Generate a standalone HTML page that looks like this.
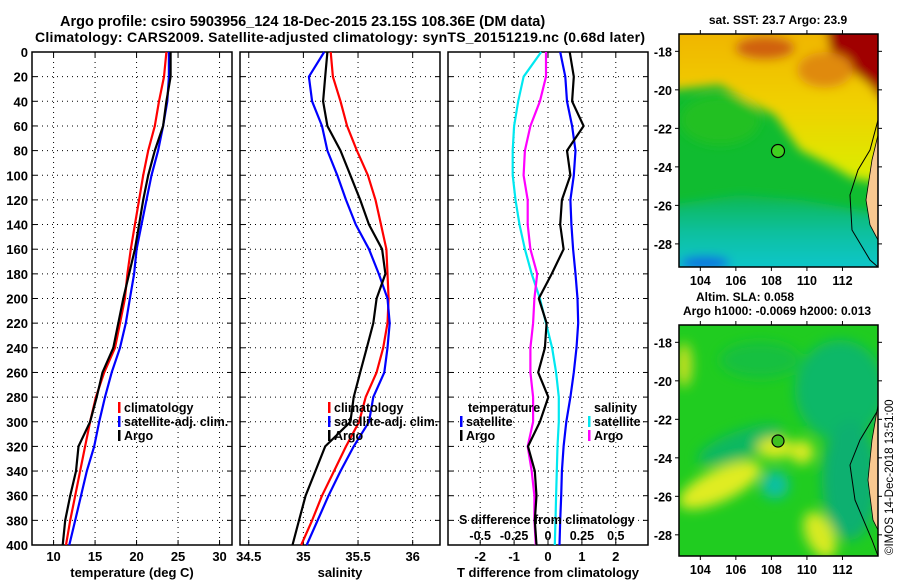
<!DOCTYPE html>
<html><head><meta charset="utf-8"><style>
body{margin:0;background:#fff;}
svg text{font-family:"Liberation Sans",sans-serif;font-weight:bold;fill:#000;}
</style></head><body>
<svg id="chart" width="900" height="580" viewBox="0 0 900 580" xmlns="http://www.w3.org/2000/svg">
<defs>
<filter id="blur" x="-20%" y="-20%" width="140%" height="140%"><feGaussianBlur stdDeviation="5"/></filter>
<filter id="blur2" x="-30%" y="-30%" width="160%" height="160%"><feGaussianBlur stdDeviation="6"/></filter>
<clipPath id="clipM1"><rect x="679" y="34" width="199" height="233"/></clipPath>
<clipPath id="clipM2"><rect x="679" y="325" width="199" height="231"/></clipPath>
<linearGradient id="sstTop" x1="0" y1="0" x2="0" y2="1"><stop offset="0" stop-color="#f0b000"/><stop offset="0.5" stop-color="#f0d000"/><stop offset="1" stop-color="#d8f000"/></linearGradient>
<linearGradient id="sstBot" x1="0" y1="0" x2="0" y2="1"><stop offset="0" stop-color="#10b850"/><stop offset="0.45" stop-color="#10c0a0"/><stop offset="1" stop-color="#10c8d8"/></linearGradient>
</defs>
<text x="60" y="26" font-size="14.5">Argo profile: csiro 5903956_124 18-Dec-2015 23.15S 108.36E (DM data)</text>
<text x="35" y="42" font-size="14" textLength="610">Climatology: CARS2009. Satellite-adjusted climatology: synTS_20151219.nc (0.68d later)</text>
<g id="panels"></g>

<!-- Map 1 -->
<g>
<g clip-path="url(#clipM1)">
<rect x="679" y="34" width="199" height="233" fill="#10bc30"/>
<g filter="url(#blur)">
<polygon points="670,20 890,20 890,185 852,178 830,165 800,150 775,115 745,100 720,85 670,90" fill="url(#sstTop)"/>
<polygon points="825,20 890,20 890,110 870,85 845,65 830,50" fill="#a00000"/>
<ellipse cx="765" cy="48" rx="30" ry="12" fill="#d06010"/>
<ellipse cx="825" cy="70" rx="28" ry="18" fill="#e08a10"/>
<ellipse cx="720" cy="120" rx="40" ry="25" fill="#20c020"/>
<polygon points="670,205 740,195 800,200 860,210 890,215 890,280 670,280" fill="url(#sstBot)"/>
<ellipse cx="705" cy="263" rx="25" ry="7" fill="#1070e0"/>
</g>
<polygon points="878,120 870,150 858,170 850,195 852,230 870,260 878,267" fill="none" stroke="#000" stroke-width="1"/>
<polygon points="878,135 872,160 866,200 870,225 878,240" fill="#f8c890" stroke="#000" stroke-width="0.8"/>
</g>
<rect x="679" y="34" width="199" height="233" fill="none" stroke="#000" stroke-width="1.5"/>
<circle cx="778" cy="151" r="6.5" fill="#40d020" stroke="#000" stroke-width="1.2"/>
<text x="778" y="24" font-size="12" text-anchor="middle">sat. SST: 23.7 Argo: 23.9</text>
</g>

<!-- Map 2 -->
<g>
<g clip-path="url(#clipM2)">
<rect x="679" y="325" width="199" height="231" fill="#20cc20"/>
<g filter="url(#blur2)">
<ellipse cx="840" cy="390" rx="45" ry="50" fill="#10b868"/>
<ellipse cx="760" cy="360" rx="40" ry="18" fill="#18c040"/>
<ellipse cx="740" cy="445" rx="45" ry="14" fill="#10b860" transform="rotate(-20 740 445)"/>
<ellipse cx="720" cy="485" rx="45" ry="16" fill="#e0ec20" transform="rotate(-25 720 485)"/>
<ellipse cx="775" cy="448" rx="18" ry="11" fill="#d8ea20"/>
<ellipse cx="802" cy="452" rx="12" ry="12" fill="#d8ea20"/>
<ellipse cx="775" cy="485" rx="14" ry="14" fill="#10c0a0"/>
<ellipse cx="820" cy="535" rx="14" ry="25" fill="#d8ea20" transform="rotate(-25 820 535)"/>
<ellipse cx="684" cy="365" rx="8" ry="22" fill="#c8e020"/>
<ellipse cx="850" cy="480" rx="28" ry="60" fill="#10b070"/>
</g>
<polygon points="878,410 860,440 850,465 855,500 872,540 878,556" fill="none" stroke="#000" stroke-width="1"/>
<polygon points="878,405 872,440 868,480 873,520 878,530" fill="#f8c890" stroke="#000" stroke-width="0.8"/>
</g>
<rect x="679" y="325" width="199" height="231" fill="none" stroke="#000" stroke-width="1.5"/>
<circle cx="778" cy="441" r="6" fill="#40c020" stroke="#000" stroke-width="1.2"/>
<text x="745" y="301" font-size="12" text-anchor="middle">Altim. SLA: 0.058</text>
<text x="777" y="315" font-size="12" text-anchor="middle">Argo h1000: -0.0069 h2000: 0.013</text>
</g>
<g id="mapaxes"></g>
<text transform="translate(893,555) rotate(-90)" font-size="11.5" style="font-weight:normal">©IMOS 14-Dec-2018 13:51:00</text>
</svg>
<script>
const depths = [0,20,40,60,80,100,120,140,160,180,200,220,240,260,280,300,320,340,360,380,400];
const depthTicks = [0,20,40,60,80,100,120,140,160,180,200,220,240,260,280,300,320,340,360,380,400];
const tempClim = [23.6,23.3,22.7,22.2,21.4,20.8,20.3,19.8,19.3,18.9,18.6,18.0,17.4,16.1,15.1,14.4,13.8,13.2,12.6,12.0,11.5];
const tempSat = [23.9,23.9,23.7,23.2,22.6,21.8,21.2,20.6,20.0,19.7,19.2,18.7,18.0,17.0,16.2,15.5,14.9,14.0,13.3,12.6,11.9];
const tempArgo = [24.1,24.1,23.6,23.2,22.2,21.4,20.8,20.3,19.8,19.1,18.4,17.8,17.2,15.9,15.2,14.4,13.0,12.7,12.0,11.4,11.1];
const salClim = [35.25,35.27,35.34,35.40,35.49,35.59,35.66,35.71,35.76,35.77,35.78,35.77,35.73,35.67,35.57,35.51,35.39,35.28,35.17,35.08,34.98];
const salSat = [35.19,35.05,35.08,35.17,35.22,35.31,35.39,35.48,35.60,35.69,35.77,35.79,35.77,35.74,35.64,35.60,35.46,35.34,35.23,35.13,35.03];
const salArgo = [35.22,35.20,35.18,35.22,35.34,35.43,35.52,35.60,35.72,35.75,35.67,35.64,35.58,35.52,35.46,35.43,35.20,35.11,35.02,34.96,34.90];
const tDiffSat = [0.36,0.51,0.56,0.71,0.81,0.76,0.66,0.69,0.74,0.81,0.87,0.89,0.84,0.76,0.66,0.54,0.46,0.41,0.39,0.36,0.34];
const tDiffArgo = [0.64,0.76,0.71,1.05,0.56,0.66,0.41,0.36,0.46,0.11,-0.27,-0.04,-0.09,-0.29,0.01,-0.24,-0.59,-0.39,-0.34,-0.39,-0.34];
const sDiffSat = [-0.05,-0.18,-0.22,-0.25,-0.26,-0.26,-0.24,-0.21,-0.17,-0.12,-0.06,-0.015,0.03,0.06,0.08,0.08,0.07,0.065,0.06,0.055,0.05];
const sDiffArgo = [-0.015,-0.015,-0.06,-0.13,-0.17,-0.18,-0.15,-0.15,-0.13,-0.08,-0.10,-0.11,-0.13,-0.13,-0.11,-0.11,-0.15,-0.12,-0.10,-0.10,-0.09];
const tempTicks = [10,15,20,25,30];
const salTicks = [34.5,35,35.5,36];
const tDiffTicks = [-2,-1,0,1,2];
const sDiffTicks = [-0.5,-0.25,0,0.25,0.5];
const latTicks = [-18,-20,-22,-24,-26,-28];
const lonTicks = [104,106,108,110,112];

const NS='http://www.w3.org/2000/svg';
const root=document.getElementById('panels');
function mk(tag,attrs,parent){const e=document.createElementNS(NS,tag);for(const k in attrs)e.setAttribute(k,attrs[k]);(parent||root).appendChild(e);return e;}
const Y0=52,Y1=545;
function yD(d){return Y0+(Y1-Y0)*d/400;}
const panels=[
 {x0:32,x1:232,lo:7.4,hi:31.5,ticks:tempTicks,title:'temperature (deg C)',name:'temperature'},
 {x0:240,x1:440,lo:34.42,hi:36.25,ticks:salTicks,title:'salinity',name:'salinity'},
 {x0:448,x1:648,lo:-2.95,hi:2.95,ticks:tDiffTicks,title:'T difference from climatology',name:'difference'}
];
function sx(p,v){return p.x0+(v-p.lo)/(p.hi-p.lo)*(p.x1-p.x0);}
function sxS(v){const p=panels[2];return sx(p,v*4);}
panels.forEach((p,i)=>{
 const g=mk('g',{});
 
 
 p.ticks.forEach(t=>{
  const l=mk('line',{x1:sx(p,t),x2:sx(p,t),y1:Y0,y2:Y1,stroke:'#000','stroke-width':1,'stroke-dasharray':'1,4'},g);
  
  
  mk('line',{x1:sx(p,t),x2:sx(p,t),y1:Y1,y2:Y1-5,stroke:'#000'},g);
  mk('line',{x1:sx(p,t),x2:sx(p,t),y1:Y0,y2:Y0+5,stroke:'#000'},g);
  const tx=mk('text',{x:sx(p,t),y:561,'font-size':13,'text-anchor':'middle'},g);
  tx.textContent=String(t);
  
  
 });
 depthTicks.forEach(d=>{
  const l=mk('line',{x1:p.x0,x2:p.x1,y1:yD(d),y2:yD(d),stroke:'#000','stroke-width':1,'stroke-dasharray':'1,4'},g);
  
  
  mk('line',{x1:p.x0,x2:p.x0+5,y1:yD(d),y2:yD(d),stroke:'#000'},g);
  mk('line',{x1:p.x1,x2:p.x1-5,y1:yD(d),y2:yD(d),stroke:'#000'},g);
  if(i===0){const tx=mk('text',{x:28,y:yD(d)+5,'font-size':13,'text-anchor':'end'},g);tx.textContent=String(d);
   
   }
 });
 const fr=mk('rect',{x:p.x0,y:Y0,width:p.x1-p.x0,height:Y1-Y0,fill:'none',stroke:'#000','stroke-width':1.5},g);
 
 
 const at=mk('text',{x:(p.x0+p.x1)/2,y:577,'font-size':13,'text-anchor':'middle'},g);
 at.textContent=p.title;
 
 
});
function line(vals,fx,color,name){
 const pts=vals.map((v,k)=>fx(v).toFixed(1)+','+yD(depths[k]).toFixed(1)).join(' ');
 const pl=mk('polyline',{points:pts,fill:'none',stroke:color,'stroke-width':2.2,'stroke-linejoin':'round'});
 
 
}
line(tempClim,v=>sx(panels[0],v),'#ff0000','temp-climatology-line');
line(tempSat,v=>sx(panels[0],v),'#0000ff','temp-satellite-line');
line(tempArgo,v=>sx(panels[0],v),'#000000','temp-argo-line');
line(salClim,v=>sx(panels[1],v),'#ff0000','sal-climatology-line');
line(salSat,v=>sx(panels[1],v),'#0000ff','sal-satellite-line');
line(salArgo,v=>sx(panels[1],v),'#000000','sal-argo-line');
line(sDiffSat,sxS,'#00e8f0','sdiff-satellite-line');
line(sDiffArgo,sxS,'#ff00ff','sdiff-argo-line');
line(tDiffSat,v=>sx(panels[2],v),'#0000ff','tdiff-satellite-line');
line(tDiffArgo,v=>sx(panels[2],v),'#000000','tdiff-argo-line');

function legend(x,y,color,label,name){
 const g=mk('g',{});
 
 
 if(color) mk('rect',{x:x,y:y-10,width:2.5,height:11,fill:color},g);
 const t=mk('text',{x:x+(color?6:0),y:y,'font-size':12.5},g);t.textContent=label;
}
legend(118,412,'#ff0000','climatology','legend-temp-climatology');
legend(118,426,'#0000ff','satellite-adj. clim.','legend-temp-satellite');
legend(118,440,'#000000','Argo','legend-temp-argo');
legend(328,412,'#ff0000','climatology','legend-sal-climatology');
legend(328,426,'#0000ff','satellite-adj. clim.','legend-sal-satellite');
legend(328,440,'#000000','Argo','legend-sal-argo');
legend(468,412,null,'temperature','legend-temperature-heading');
legend(460,426,'#0000ff','satellite','legend-tdiff-satellite');
legend(460,440,'#000000','Argo','legend-tdiff-argo');
legend(594,412,null,'salinity','legend-salinity-heading');
legend(588,426,'#00e8f0','satellite','legend-sdiff-satellite');
legend(588,440,'#ff00ff','Argo','legend-sdiff-argo');
legend(459,524,null,'S difference from climatology','s-diff-axis-title');
sDiffTicks.forEach(t=>{
 const tx=mk('text',{x:sxS(t),y:540,'font-size':12.5,'text-anchor':'middle'});
 tx.textContent=String(t);
 
 
});

const ma=document.getElementById('mapaxes');
function lonX(l){return 679+(l-102.8)/(114.0-102.8)*199;}
[[34,267,-17.1,-29.2],[325,556,-17.1,-29.1]].forEach((m,mi)=>{
 const latY=la=>m[0]+(la-m[2])/(m[3]-m[2])*(m[1]-m[0]);
 latTicks.forEach(la=>{
  mk('line',{x1:675,x2:679,y1:latY(la),y2:latY(la),stroke:'#000'},ma);
  mk('line',{x1:878,x2:882,y1:latY(la),y2:latY(la),stroke:'#000'},ma);
  const t=mk('text',{x:672,y:latY(la)+5,'font-size':12.5,'text-anchor':'end'},ma);t.textContent=String(la);
  
  
 });
 lonTicks.forEach(lo=>{
  mk('line',{x1:lonX(lo),x2:lonX(lo),y1:m[1],y2:m[1]+4,stroke:'#000'},ma);
  mk('line',{x1:lonX(lo),x2:lonX(lo),y1:m[0],y2:m[0]-4,stroke:'#000'},ma);
  const t=mk('text',{x:lonX(lo),y:m[1]+18,'font-size':12.5,'text-anchor':'middle'},ma);t.textContent=String(lo);
  
  
 });
});
</script>
</body></html>
